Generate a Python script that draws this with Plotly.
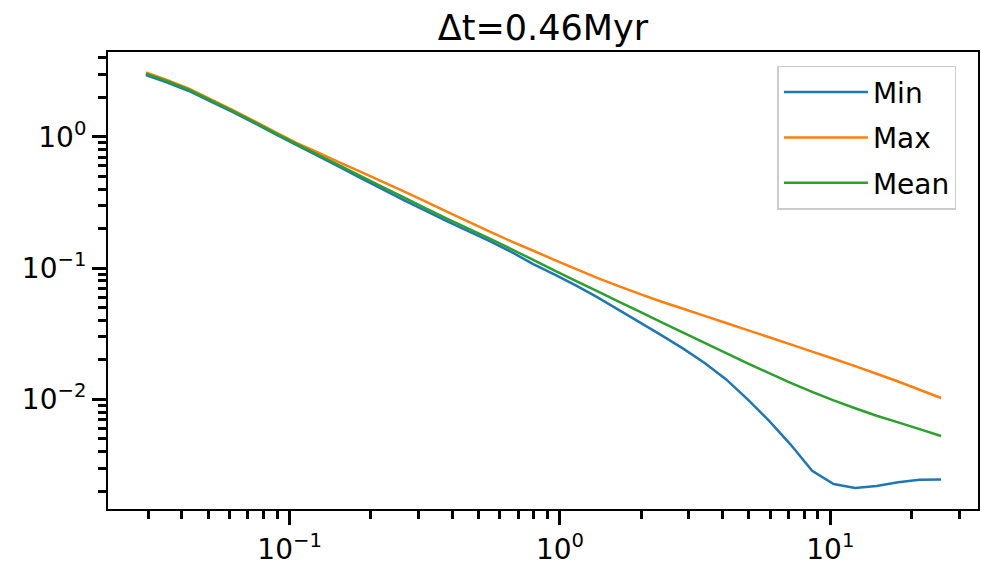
import plotly.graph_objects as go

# bin centres (log-spaced)
x_vals = [0.02941, 0.03532, 0.04242, 0.05095, 0.06119, 0.07348, 0.08820, 0.1059,
          0.1272, 0.1528, 0.1834, 0.2203, 0.2645, 0.3177, 0.3815, 0.4581,
          0.5501, 0.6606, 0.7932, 0.9524, 1.144, 1.373, 1.649, 1.981,
          2.378, 2.856, 3.429, 4.118, 4.945, 5.938, 7.131, 8.563,
          10.28, 12.35, 14.83, 17.81, 21.38, 25.68]

min_vals = [2.948, 2.584, 2.234, 1.865, 1.557, 1.284, 1.053, 0.8660,
            0.7143, 0.5890, 0.4840, 0.4000, 0.3300, 0.2742, 0.2281, 0.1914,
            0.1606, 0.1330, 0.1079, 0.0895, 0.07380, 0.06013, 0.04816, 0.03851,
            0.03073, 0.02439, 0.01894, 0.01420, 0.01003, 0.006865, 0.004533, 0.002857,
            0.002272, 0.002116, 0.002194, 0.002344, 0.002448, 0.002457]

max_vals = [3.094, 2.703, 2.328, 1.937, 1.612, 1.329, 1.091, 0.8995,
            0.7602, 0.6391, 0.5402, 0.4564, 0.3844, 0.3221, 0.2698, 0.2260,
            0.1894, 0.1600, 0.1362, 0.1157, 0.09863, 0.08423, 0.07291, 0.06334,
            0.05551, 0.04900, 0.04325, 0.03818, 0.03375, 0.02979, 0.02628, 0.02315,
            0.02040, 0.01795, 0.01568, 0.01369, 0.01186, 0.01025]

mean_vals = [3.026, 2.652, 2.288, 1.904, 1.584, 1.306, 1.072, 0.8826,
             0.7305, 0.6057, 0.5022, 0.4164, 0.3457, 0.2867, 0.2384, 0.2002,
             0.1677, 0.1398, 0.1159, 0.09609, 0.08008, 0.06675, 0.05564, 0.04637,
             0.03871, 0.03232, 0.02698, 0.02256, 0.01884, 0.01587, 0.01336, 0.01141,
             0.009829, 0.008570, 0.007521, 0.006686, 0.005940, 0.005270]

series_names = ["Min", "Max", "Mean"]
series_colors = ["#1f77b4", "#ff7f0e", "#2ca02c"]

x_tickvals = [0.1, 1, 10]
x_ticktext = ["10<sup>\u22121</sup>", "10<sup>0</sup>", "10<sup>1</sup>"]
x_minor = [0.03, 0.04, 0.05, 0.06, 0.07, 0.08, 0.09,
           0.2, 0.3, 0.4, 0.5, 0.6, 0.7, 0.8, 0.9,
           2, 3, 4, 5, 6, 7, 8, 9, 20, 30]

y_tickvals = [0.01, 0.1, 1]
y_ticktext = ["10<sup>\u22122</sup>", "10<sup>\u22121</sup>", "10<sup>0</sup>"]
y_minor = [0.002, 0.003, 0.004, 0.005, 0.006, 0.007, 0.008, 0.009,
           0.02, 0.03, 0.04, 0.05, 0.06, 0.07, 0.08, 0.09,
           0.2, 0.3, 0.4, 0.5, 0.6, 0.7, 0.8, 0.9, 2, 3, 4]

title_text = "\u0394t=0.46Myr"

fig = go.Figure()
for name, color, vals in zip(series_names, series_colors, [min_vals, max_vals, mean_vals]):
    fig.add_trace(go.Scatter(x=x_vals, y=vals, mode="lines", name=name,
                             legendgroup=name,
                             line=dict(color=color, width=2.5, simplify=False)))

font_family = "DejaVu Sans"

fig.update_xaxes(type="log", range=[-1.6716, 1.5461],
                 showline=True, linecolor="black", linewidth=2, mirror=True,
                 showgrid=False, zeroline=False,
                 ticks="outside", ticklen=14, tickwidth=3, tickcolor="black",
                 tickmode="array", tickvals=x_tickvals, ticktext=x_ticktext,
                 tickfont=dict(family=font_family, size=28, color="black"),
                 minor=dict(tickmode="array", tickvals=x_minor, ticks="outside",
                            ticklen=8, tickwidth=2.5, tickcolor="black", showgrid=False))

fig.update_yaxes(type="log", range=[-2.8342, 0.6458],
                 showline=True, linecolor="black", linewidth=2, mirror=True,
                 showgrid=False, zeroline=False,
                 ticks="outside", ticklen=14, tickwidth=3, tickcolor="black",
                 tickmode="array", tickvals=y_tickvals, ticktext=y_ticktext,
                 tickfont=dict(family=font_family, size=28, color="black"),
                 minor=dict(tickmode="array", tickvals=y_minor, ticks="outside",
                            ticklen=8, tickwidth=2.5, tickcolor="black", showgrid=False))

fig.update_layout(
    width=981, height=567,
    margin=dict(l=108, r=1, t=52, b=53),
    plot_bgcolor="white", paper_bgcolor="white",
    font=dict(family=font_family, size=28, color="black"),
    title=dict(text=title_text, x=0.5535, xanchor="center",
               y=1 - 28 / 567, yanchor="middle",
               font=dict(family=font_family, size=35, color="black")),
    legend=dict(x=0.7695, y=0.9697, xanchor="left", yanchor="top",
                bgcolor="rgba(255,255,255,0.8)", bordercolor="#cccccc", borderwidth=1.5,
                font=dict(family=font_family, size=28, color="black"),
                tracegroupgap=6, itemwidth=84),
    showlegend=True,
)

fig.write_html("out.html")
